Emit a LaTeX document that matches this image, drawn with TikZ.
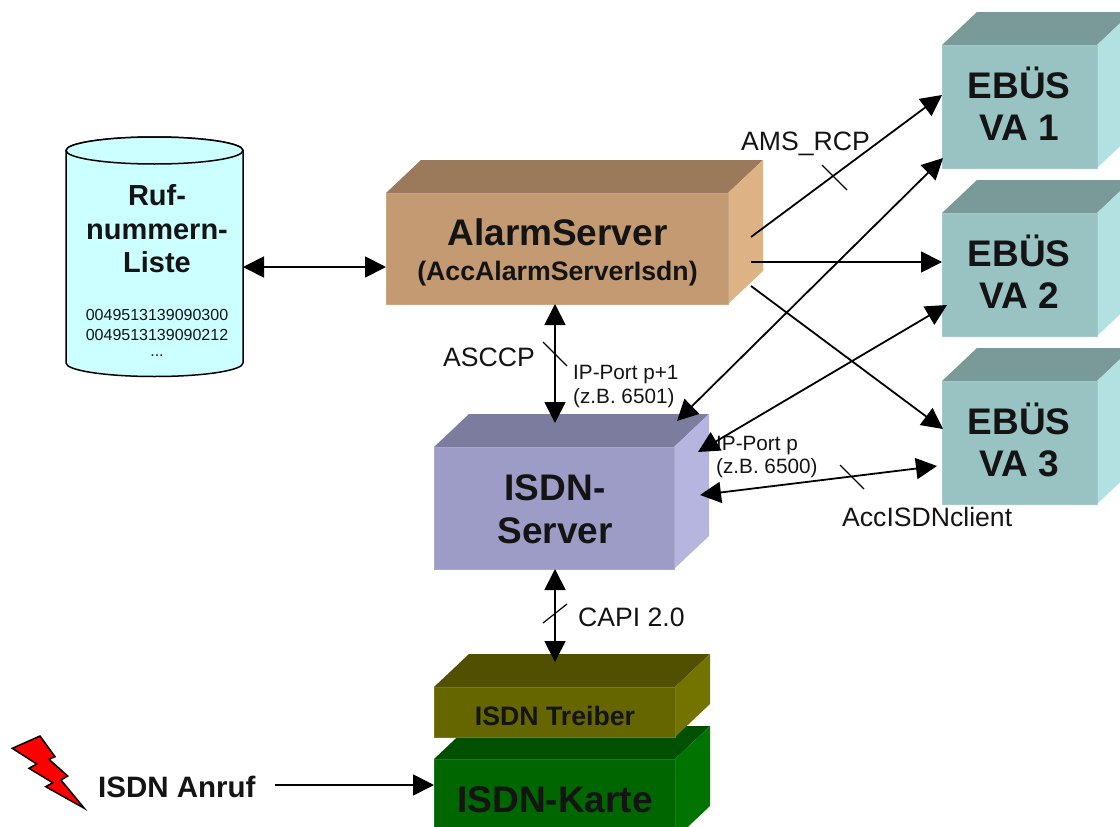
\documentclass[tikz,border=0pt]{standalone}
\usepackage{fontspec}
\setmainfont{Liberation Sans}
\usetikzlibrary{arrows.meta}
\newcommand{\fs}[1]{\fontsize{#1}{#1}\selectfont}
\newcommand{\cuboid}[8]{% name,x,y,w,h,front,top,side
  \fill[#7] (#2,#3) -- ++(35,-33) -- ++(#4,0) -- ++(-35,33) -- cycle;
  \fill[#8] ({#2+#4},#3) -- ++(35,-33) -- ++(0,#5) -- ++(-35,33) -- cycle;
  \node[boxface,fill=#6,draw=#6!88!white,line width=1pt,minimum width=#4 pt,minimum height=#5 pt] (#1) at ({#2+#4/2},{#3+#5/2}) {};
}
\tikzset{
  x=1pt,y=-1pt,
  boxface/.style={inner sep=0pt,outer sep=0pt},
  conn/.style={line width=1.8pt,-{Triangle[length=21pt,width=21pt]}},
  bidir/.style={line width=1.8pt,{Triangle[length=21pt,width=21pt]}-{Triangle[length=21pt,width=21pt]}},
  tick/.style={line width=1.2pt},
  plain/.style={inner sep=0pt,align=center,text=black!92},
  big/.style={plain,font=\fs{37}\bfseries},
  mid/.style={plain,font=\fs{26.7}\bfseries},
  lab/.style={plain,font=\fs{26.6}},
  smalllab/.style={plain,font=\fs{20.7},align=left,anchor=west}
}
\definecolor{ebf}{HTML}{99C2C2}\definecolor{ebt}{HTML}{7A9A9A}\definecolor{ebs}{HTML}{B3E0E0}
\definecolor{alf}{HTML}{C49A72}\definecolor{alt}{HTML}{9A7A5A}\definecolor{als}{HTML}{DDB285}
\definecolor{isf}{HTML}{9C9CC6}\definecolor{ist}{HTML}{7C7C9E}\definecolor{iss}{HTML}{B5B5E0}
\definecolor{trf}{HTML}{666600}\definecolor{trt}{HTML}{505000}\definecolor{trs}{HTML}{737300}
\definecolor{kaf}{HTML}{006600}\definecolor{kat}{HTML}{005000}\definecolor{kas}{HTML}{007300}
\definecolor{cylf}{HTML}{CCFFFF}
\begin{document}
\begin{tikzpicture}
\clip (0,0) rectangle (1120,827);
\fill[white] (0,0) rectangle (1120,827);
% cylinder
\filldraw[fill=cylf,draw=black,line width=1.5pt]
  (66,150.5) -- (66,363) arc[start angle=180,end angle=360,x radius=88.5,y radius=-13.5]
  -- (243,150.5) arc[start angle=0,end angle=180,x radius=88.5,y radius=-13.5] -- cycle;
\filldraw[fill=cylf,draw=black,line width=1.5pt] (154.5,150.5) ellipse[x radius=88.5,y radius=13.5];
\node[boxface,minimum width=177pt,minimum height=226pt] (cyl) at (154.5,267) {};
\node[plain,font=\fs{29}\bfseries] (cyl1) at (157,195) {Ruf-};
\node[plain,font=\fs{29}\bfseries] (cyl2) at (157,232) {nummern-};
\node[plain,font=\fs{29}\bfseries] (cyl3) at (157,262) {Liste};
\node[plain,font=\fs{16}] (num1) at (157,315) {0049513139090300};
\node[plain,font=\fs{16}] (num2) at (157,334.5) {0049513139090212};
\node[plain,font=\fs{16}] (num3) at (157,356) {...};
% boxes
\cuboid{alarm}{386}{193}{342}{111}{alf}{alt}{als}
\cuboid{isdn}{434}{447}{240}{122}{isf}{ist}{iss}
\cuboid{ka}{434}{759}{241}{80}{kaf}{kat}{kas}
\cuboid{tr}{434}{687}{241}{50}{trf}{trt}{trs}
\cuboid{va1}{942}{45}{155}{123}{ebf}{ebt}{ebs}
\cuboid{va2}{942}{213}{155}{123}{ebf}{ebt}{ebs}
\cuboid{va3}{942}{381}{155}{123}{ebf}{ebt}{ebs}
% box texts
\node[big] (t1) at (557.5,232) {AlarmServer};
\node[mid] (t2) at (557.5,274) {(AccAlarmServerIsdn)};
\node[big] (t3) at (555,488) {ISDN-};
\node[big] (t4) at (555,531) {Server};
\node[mid] (t5) at (555,716) {ISDN Treiber};
\node[big] (t6) at (555,800) {ISDN-Karte};
\node[big] (e11) at (1019,82.5) {EBÜS};
\node[big] (e12) at (1019,128) {VA 1};
\node[big] (e21) at (1019,250.5) {EBÜS};
\node[big] (e22) at (1019,296) {VA 2};
\node[big] (e31) at (1019,418.5) {EBÜS};
\node[big] (e32) at (1019,464) {VA 3};
% labels
\node[lab,anchor=west] (ams) at (741,144) {AMS\_RCP};
\node[lab,anchor=east] (asccp) at (535,357) {ASCCP};
\node[smalllab] (p1) at (573,375) {IP-Port p+1};
\node[smalllab] (p2) at (573,398) {(z.B. 6501)};
\node[smalllab] (p3) at (716,446) {IP-Port p};
\node[smalllab] (p4) at (716,468) {(z.B. 6500)};
\node[lab,anchor=west] (acc) at (842,517) {AccISDNclient};
\node[lab,anchor=west] (capi) at (578,617) {CAPI 2.0};
\node[plain,font=\fs{29.5}\bfseries,anchor=west] (anruf) at (98,787) {ISDN Anruf};
% lightning
\filldraw[fill=red,draw=black,line width=1.5pt,line join=miter]
 (12.3,748.3) -- (40,736) -- (55,756.7) -- (49,759.3) -- (67.7,776) -- (61,780) -- (84.3,808.3)
 -- (45.7,786.7) -- (52.7,782.7) -- (29,768.3) -- (36.7,764) -- cycle;
% free ends
\coordinate (a1) at (751,237); \coordinate (b1) at (942,95);
\coordinate (a2) at (751,262); \coordinate (b2) at (942,262);
\coordinate (a3) at (751,286); \coordinate (b3) at (943,429);
\coordinate (c1) at (677,421); \coordinate (d1) at (943,158);
\coordinate (c2) at (698,452); \coordinate (d2) at (947,305);
\coordinate (c3) at (700,495); \coordinate (d3) at (937,466);
\coordinate (s1) at (555,304); \coordinate (s2) at (555,423);
\coordinate (s3) at (555,569); \coordinate (s4) at (555,662);
\coordinate (an) at (275,785); \coordinate (kw) at (434,785);
% connectors
\draw[bidir] (cyl.east |- 0,267) -- (alarm.west |- 0,267);
\draw[bidir] (s1) -- (s2);
\draw[bidir] (s3) -- (s4);
\draw[conn] (an) -- (kw);
\draw[conn] (a1) -- (b1);
\draw[conn] (a2) -- (b2);
\draw[conn] (a3) -- (b3);
\draw[bidir] (c1) -- (d1);
\draw[bidir] (c2) -- (d2);
\draw[bidir] (c3) -- (d3);
% ticks
\coordinate (k1a) at (822,165); \coordinate (k1b) at (847,190);
\coordinate (k2a) at (543,342); \coordinate (k2b) at (567,366);
\coordinate (k3a) at (840,465); \coordinate (k3b) at (864,489);
\coordinate (k4a) at (543,623); \coordinate (k4b) at (567,604);
\draw[tick] (k1a) -- (k1b);
\draw[tick] (k2a) -- (k2b);
\draw[tick] (k3a) -- (k3b);
\draw[tick] (k4a) -- (k4b);
\end{tikzpicture}
\end{document}
